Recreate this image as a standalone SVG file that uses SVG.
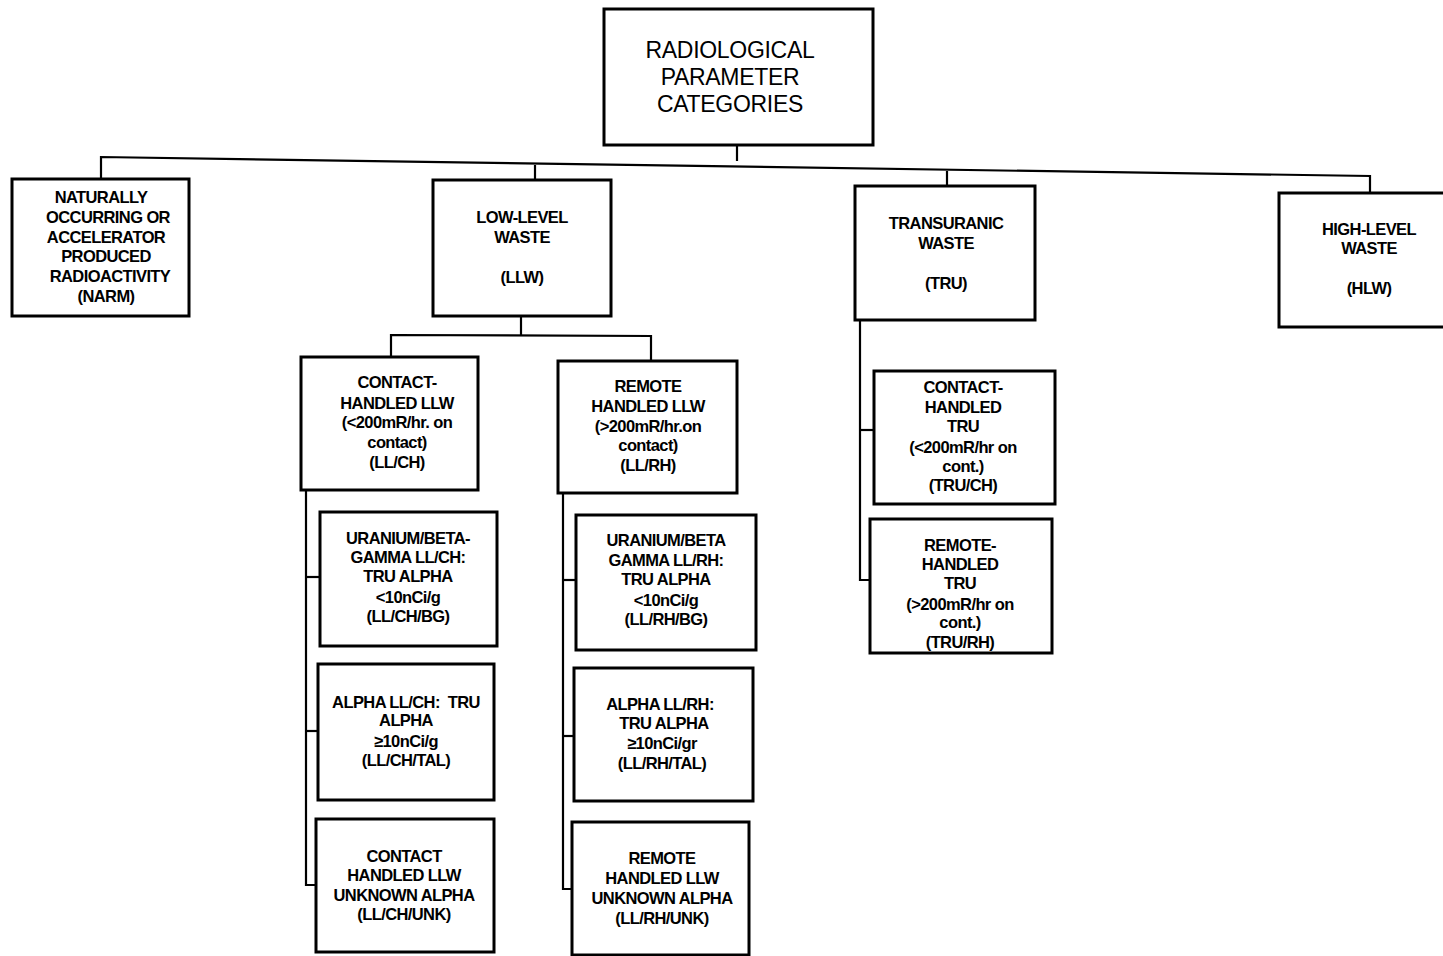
<svg xmlns="http://www.w3.org/2000/svg" width="1443" height="956" viewBox="0 0 1443 956">
<style>
.box{fill:#fff;stroke:#000;stroke-width:3}
.ln{fill:none;stroke:#000;stroke-width:2.2}
text{font-family:"Liberation Sans",Arial,sans-serif;font-weight:bold;font-size:16.5px;text-anchor:middle;fill:#000;letter-spacing:-0.6px}
.top{font-size:23px;font-weight:normal;letter-spacing:-0.3px}
</style>
<rect width="1443" height="956" fill="#fff"/>
<g id="connectors">
<polyline class="ln" points="737,145 737,161"/>
<polyline class="ln" points="101,179 101,157 1370,176 1370,193"/>
<polyline class="ln" points="535,165 535,180"/>
<polyline class="ln" points="947,171 947,186"/>
<polyline class="ln" points="521,316 521,335"/>
<polyline class="ln" points="391,357 391,335 651,336 651,361"/>
<polyline class="ln" points="306,490 306,885 319,885"/>
<polyline class="ln" points="306,577 320,577"/>
<polyline class="ln" points="306,731 318,731"/>
<polyline class="ln" points="563,493 563,889 572,889"/>
<polyline class="ln" points="563,580 576,580"/>
<polyline class="ln" points="563,736 574,736"/>
<polyline class="ln" points="860,320 860,580 870,580"/>
<polyline class="ln" points="860,430 874,430"/>
</g>
<g id="root">
<rect class="box" x="604" y="9" width="269" height="136"/>
<text class="top" x="730" y="58">RADIOLOGICAL</text>
<text class="top" x="730" y="85">PARAMETER</text>
<text class="top" x="730" y="112">CATEGORIES</text>
</g>
<g id="narm">
<rect class="box" x="12" y="179" width="177" height="137"/>
<text x="101" y="203">NATURALLY</text>
<text x="108" y="223">OCCURRING OR</text>
<text x="106" y="243">ACCELERATOR</text>
<text x="106" y="262">PRODUCED</text>
<text x="110" y="282">RADIOACTIVITY</text>
<text x="106" y="302">(NARM)</text>
</g>
<g id="llw">
<rect class="box" x="433" y="180" width="178" height="136"/>
<text x="522" y="223">LOW-LEVEL</text>
<text x="522" y="243">WASTE</text>
<text x="522" y="283">(LLW)</text>
</g>
<g id="tru">
<rect class="box" x="855" y="186" width="180" height="134"/>
<text x="946" y="229">TRANSURANIC</text>
<text x="946" y="249">WASTE</text>
<text x="946" y="289">(TRU)</text>
</g>
<g id="hlw">
<rect class="box" x="1279" y="193" width="170" height="134"/>
<text x="1369" y="235">HIGH-LEVEL</text>
<text x="1369" y="254">WASTE</text>
<text x="1369" y="294">(HLW)</text>
</g>
<g id="llch">
<rect class="box" x="301" y="357" width="177" height="133"/>
<text x="397" y="388">CONTACT-</text>
<text x="397" y="409">HANDLED LLW</text>
<text x="397" y="428">(&lt;200mR/hr. on</text>
<text x="397" y="448">contact)</text>
<text x="397" y="468">(LL/CH)</text>
</g>
<g id="llrh">
<rect class="box" x="558" y="361" width="179" height="132"/>
<text x="648" y="392">REMOTE</text>
<text x="648" y="412">HANDLED LLW</text>
<text x="648" y="432">(&gt;200mR/hr.on</text>
<text x="648" y="451">contact)</text>
<text x="648" y="471">(LL/RH)</text>
</g>
<g id="llchbg">
<rect class="box" x="320" y="512" width="177" height="134"/>
<text x="408" y="544">URANIUM/BETA-</text>
<text x="408" y="563">GAMMA LL/CH:</text>
<text x="408" y="582">TRU ALPHA</text>
<text x="408" y="603">&lt;10nCi/g</text>
<text x="408" y="622">(LL/CH/BG)</text>
</g>
<g id="llchtal">
<rect class="box" x="318" y="664" width="176" height="136"/>
<text x="406" y="708" xml:space="preserve">ALPHA LL/CH:  TRU</text>
<text x="406" y="726">ALPHA</text>
<text x="406" y="747">≥10nCi/g</text>
<text x="406" y="766">(LL/CH/TAL)</text>
</g>
<g id="llchunk">
<rect class="box" x="316" y="819" width="178" height="133"/>
<text x="404" y="862">CONTACT</text>
<text x="404" y="881">HANDLED LLW</text>
<text x="404" y="901">UNKNOWN ALPHA</text>
<text x="404" y="920">(LL/CH/UNK)</text>
</g>
<g id="llrhbg">
<rect class="box" x="576" y="515" width="180" height="135"/>
<text x="666" y="546">URANIUM/BETA</text>
<text x="666" y="566">GAMMA LL/RH:</text>
<text x="666" y="585">TRU ALPHA</text>
<text x="666" y="606">&lt;10nCi/g</text>
<text x="666" y="625">(LL/RH/BG)</text>
</g>
<g id="llrhtal">
<rect class="box" x="574" y="668" width="179" height="133"/>
<text x="660" y="710">ALPHA LL/RH:</text>
<text x="664" y="729">TRU ALPHA</text>
<text x="662" y="749">≥10nCi/gr</text>
<text x="662" y="769">(LL/RH/TAL)</text>
</g>
<g id="llrhunk">
<rect class="box" x="572" y="822" width="177" height="133"/>
<text x="662" y="864">REMOTE</text>
<text x="662" y="884">HANDLED LLW</text>
<text x="662" y="904">UNKNOWN ALPHA</text>
<text x="662" y="924">(LL/RH/UNK)</text>
</g>
<g id="truch">
<rect class="box" x="874" y="371" width="181" height="133"/>
<text x="963" y="393">CONTACT-</text>
<text x="963" y="413">HANDLED</text>
<text x="963" y="432">TRU</text>
<text x="963" y="453">(&lt;200mR/hr on</text>
<text x="963" y="472">cont.)</text>
<text x="963" y="491">(TRU/CH)</text>
</g>
<g id="truhr">
<rect class="box" x="870" y="519" width="182" height="134"/>
<text x="960" y="551">REMOTE-</text>
<text x="960" y="570">HANDLED</text>
<text x="960" y="589">TRU</text>
<text x="960" y="610">(&gt;200mR/hr on</text>
<text x="960" y="628">cont.)</text>
<text x="960" y="648">(TRU/RH)</text>
</g>
</svg>
